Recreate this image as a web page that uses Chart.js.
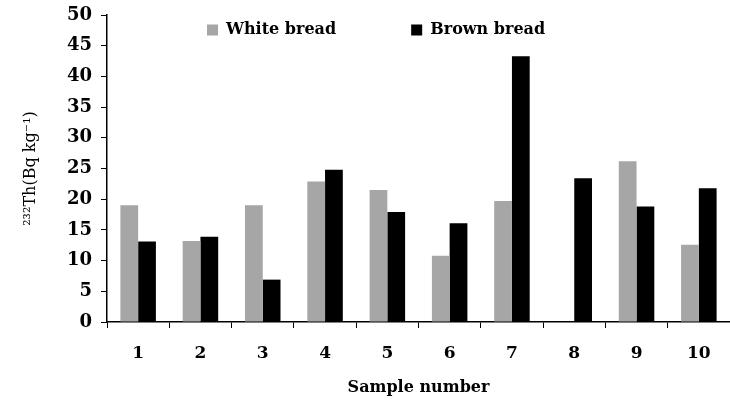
<!DOCTYPE html>
<html>
<head>
<meta charset="utf-8">
<script src="https://cdn.jsdelivr.net/npm/chart.js@4"></script>
<style>
  html, body { margin: 0; padding: 0; background: #ffffff; }
  #wrap { width: 730px; height: 400px; }
</style>
</head>
<body>
<div id="wrap"><canvas id="myChart" width="730" height="400"></canvas></div>
<script>
// Datos del gráfico
var samples = ["1", "2", "3", "4", "5", "6", "7", "8", "9", "10"];
var whiteBread = [19.0, 13.2, 19.0, 22.9, 21.5, 10.8, 19.7, 0, 26.2, 12.6];
var brownBread = [13.1, 13.9, 6.9, 24.8, 17.9, 16.1, 43.3, 23.4, 18.8, 21.8];
var yTicks = [0, 5, 10, 15, 20, 25, 30, 35, 40, 45, 50];

var serif = "'DejaVu Serif', 'Liberation Serif', serif";

// Leyenda dibujada dentro del área del gráfico
var insideLegend = {
  id: "insideLegend",
  afterDraw: function (chart) {
    var ctx = chart.ctx;
    var area = chart.chartArea;
    var x = area.left + 100;
    var y = area.top + 15;
    ctx.save();
    ctx.font = "bold 16px " + serif;
    ctx.textBaseline = "middle";
    ctx.textAlign = "left";
    chart.data.datasets.forEach(function (ds) {
      ctx.fillStyle = ds.backgroundColor;
      ctx.fillRect(x, y - 5.5, 11, 11);
      ctx.fillStyle = "#000000";
      ctx.fillText(ds.label, x + 19, y);
      x += 19 + ctx.measureText(ds.label).width + 75;
    });
    ctx.restore();
  },
};

var ctx = document.getElementById("myChart").getContext("2d");
var myChart = new Chart(ctx, {
  type: "bar",
  data: {
    labels: samples,
    datasets: [
      {
        label: "White bread",
        data: whiteBread,
        backgroundColor: "#a6a6a6",
        categoryPercentage: 0.57,
        barPercentage: 1.0,
      },
      {
        label: "Brown bread",
        data: brownBread,
        backgroundColor: "#000000",
        categoryPercentage: 0.57,
        barPercentage: 1.0,
      },
    ],
  },
  options: {
    responsive: false,
    animation: false,
    layout: {
      padding: { top: 15, right: 0, bottom: 0, left: 0 },
    },
    scales: {
      x: {
        grid: {
          display: true,
          offset: true,
          drawOnChartArea: false,
          drawTicks: true,
          tickLength: 6,
          color: "#000000",
        },
        border: { display: true, color: "#000000", width: 1.5 },
        ticks: {
          color: "#000000",
          padding: 15,
          font: { family: serif, size: 17, weight: "bold" },
        },
        title: {
          display: true,
          text: "Sample number",
          color: "#000000",
          padding: { top: 0, bottom: 3 },
          font: { family: serif, size: 16, weight: "bold" },
        },
        afterFit: function (scale) {
          scale.height = 78;
        },
      },
      y: {
        min: 0,
        max: 50,
        afterBuildTicks: function (scale) {
          scale.ticks = yTicks.map(function (v) {
            return { value: v };
          });
        },
        grid: {
          display: true,
          drawOnChartArea: false,
          drawTicks: true,
          tickLength: 6,
          color: "#000000",
        },
        border: { display: true, color: "#000000", width: 1.5 },
        ticks: {
          color: "#000000",
          padding: 9,
          font: { family: serif, size: 18, weight: "bold" },
        },
        title: {
          display: true,
          text: "²³²Th(Bq kg⁻¹)",
          color: "#000000",
          padding: { top: 21, bottom: 0 },
          font: { family: serif, size: 16, weight: "normal" },
        },
        afterFit: function (scale) {
          scale.width = 107;
          scale.paddingTop = 0;
          scale.paddingBottom = 0;
        },
      },
    },
    plugins: {
      legend: { display: false },
      tooltip: { enabled: false },
    },
  },
  plugins: [insideLegend],
});
</script>
</body>
</html>
